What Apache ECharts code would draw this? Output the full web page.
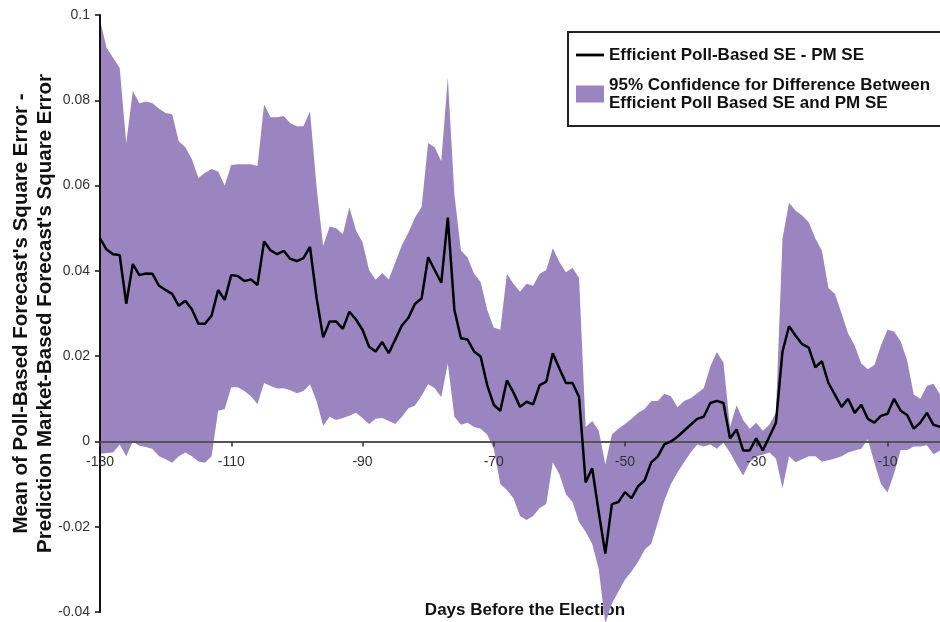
<!DOCTYPE html>
<html>
<head>
<meta charset="utf-8">
<script src="https://cdn.jsdelivr.net/npm/echarts@6/dist/echarts.min.js"></script>
<style>
  html, body { margin: 0; padding: 0; background: #fff; }
  #chart { width: 940px; height: 622px; }
</style>
</head>
<body>
<div id="chart"></div>
<script>
// 距离选举的天数
var days = [-130, -129, -128, -127, -126, -125, -124, -123, -122, -121,
    -120, -119, -118, -117, -116, -115, -114, -113, -112, -111,
    -110, -109, -108, -107, -106, -105, -104, -103, -102, -101,
    -100, -99, -98, -97, -96, -95, -94, -93, -92, -91,
    -90, -89, -88, -87, -86, -85, -84, -83, -82, -81,
    -80, -79, -78, -77, -76, -75, -74, -73, -72, -71,
    -70, -69, -68, -67, -66, -65, -64, -63, -62, -61,
    -60, -59, -58, -57, -56, -55, -54, -53, -52, -51,
    -50, -49, -48, -47, -46, -45, -44, -43, -42, -41,
    -40, -39, -38, -37, -36, -35, -34, -33, -32, -31,
    -30, -29, -28, -27, -26, -25, -24, -23, -22, -21,
    -20, -19, -18, -17, -16, -15, -14, -13, -12, -11,
    -10, -9, -8, -7, -6, -5, -4, -3, -2];

// Efficient Poll-Based SE - PM SE
var diffMean = [0.0476, 0.045, 0.0439, 0.0437, 0.0323, 0.0416, 0.039, 0.0394, 0.0393, 0.0365,
    0.0355, 0.0346, 0.0318, 0.033, 0.031, 0.0276, 0.0276, 0.0295, 0.0355, 0.0332,
    0.039, 0.0388, 0.0376, 0.038, 0.0367, 0.0469, 0.0448, 0.0439, 0.0447, 0.0428,
    0.0423, 0.043, 0.0456, 0.0337, 0.0244, 0.0281, 0.0281, 0.0264, 0.0304, 0.0286,
    0.0262, 0.0222, 0.0211, 0.0233, 0.0207, 0.0239, 0.0272, 0.029, 0.0323, 0.0335,
    0.0432, 0.0402, 0.0372, 0.0525, 0.0309, 0.0242, 0.0239, 0.0211, 0.0199, 0.0132,
    0.0086, 0.0072, 0.0143, 0.0115, 0.0081, 0.0093, 0.0087, 0.0132, 0.014, 0.0207,
    0.0171, 0.0137, 0.0137, 0.0104, -0.0096, -0.0063, -0.0166, -0.0263, -0.0147, -0.0142,
    -0.0119, -0.0133, -0.0105, -0.0091, -0.0049, -0.0035, -0.0007, 0, 0.0011, 0.0025,
    0.0039, 0.0053, 0.0058, 0.009, 0.0095, 0.009, 0.0007, 0.0028, -0.0021, -0.0021,
    0.0007, -0.0021, 0.0011, 0.0044, 0.0211, 0.027, 0.0248, 0.0228, 0.022, 0.0174,
    0.0188, 0.0137, 0.0109, 0.0081, 0.01, 0.0067, 0.0086, 0.0053, 0.0044, 0.006,
    0.0065, 0.01, 0.0072, 0.0062, 0.003, 0.0044, 0.0067, 0.0039, 0.0034];

// 95% 置信区间上界
var ciUpper = [0.0988, 0.0923, 0.090, 0.0876, 0.070, 0.0822, 0.0793, 0.0797, 0.0793, 0.078,
    0.077, 0.0767, 0.0704, 0.069, 0.0662, 0.0618, 0.063, 0.0639, 0.0633, 0.060,
    0.0648, 0.065, 0.065, 0.065, 0.0646, 0.079, 0.076, 0.076, 0.0763, 0.0746,
    0.0739, 0.0739, 0.0774, 0.0597, 0.0458, 0.0504, 0.050, 0.0486, 0.0549, 0.0495,
    0.0467, 0.0402, 0.0379, 0.0395, 0.038, 0.042, 0.046, 0.049, 0.0525, 0.055,
    0.07, 0.069, 0.0657, 0.0853, 0.0579, 0.0448, 0.0432, 0.0393, 0.0374, 0.0309,
    0.0267, 0.0262, 0.0393, 0.037, 0.0351, 0.037, 0.0365, 0.0393, 0.0402, 0.0453,
    0.0421, 0.0397, 0.0407, 0.0383, 0.0034, 0.0048, 0.0025, -0.0054, 0.0016, 0.003,
    0.0041, 0.0053, 0.0067, 0.0076, 0.0095, 0.0095, 0.0112, 0.0106, 0.008, 0.0095,
    0.0101, 0.0113, 0.0125, 0.0176, 0.021, 0.0185, 0.0034, 0.0085, 0.005, 0.003,
    0.0044, 0.0025, 0.0039, 0.0067, 0.0476, 0.056, 0.0541, 0.053, 0.0514, 0.0476,
    0.0448, 0.036, 0.0346, 0.030, 0.0253, 0.0225, 0.0183, 0.0169, 0.0179, 0.0225,
    0.0262, 0.0258, 0.0235, 0.019, 0.011, 0.010, 0.013, 0.0135, 0.011];

// 95% 置信区间下界
var ciLower = [-0.0029, -0.0027, -0.0026, -0.0007, -0.0035, 0, -0.001, -0.0013, -0.0018, -0.0035,
    -0.0042, -0.005, -0.0035, -0.0026, -0.0035, -0.0047, -0.005, -0.0035, 0.0072, 0.0076,
    0.0127, 0.0127, 0.0118, 0.0106, 0.0088, 0.0137, 0.013, 0.0124, 0.0125, 0.012,
    0.0113, 0.0118, 0.0134, 0.0095, 0.0037, 0.0058, 0.005, 0.0055, 0.006, 0.0067,
    0.0055, 0.0041, 0.0053, 0.0055, 0.0048, 0.0041, 0.0058, 0.0078, 0.0084, 0.0107,
    0.0134, 0.0125, 0.0104, 0.0183, 0.0058, 0.0039, 0.0044, 0.0034, 0.003, 0.0016,
    -0.0017, -0.01, -0.0114, -0.0133, -0.0175, -0.0184, -0.0175, -0.0156, -0.0147, -0.0049,
    -0.0077, -0.0124, -0.0142, -0.0189, -0.0212, -0.024, -0.03, -0.0426, -0.038, -0.0352,
    -0.0324, -0.0305, -0.0282, -0.0254, -0.024, -0.019, -0.0138, -0.01, -0.0073, -0.0049,
    -0.0026, -0.0007, -0.0012, -0.0007, -0.0017, -0.0003, -0.0026, -0.0054, -0.008, -0.0049,
    -0.0035, -0.0031, -0.0026, -0.004, -0.011, -0.0035, -0.0049, -0.0042, -0.0035, -0.0035,
    -0.0047, -0.0044, -0.004, -0.0035, -0.0026, -0.0021, -0.0017, 0.0005, -0.005, -0.01,
    -0.012, -0.0075, -0.002, -0.002, -0.0012, -0.0012, -0.0009, -0.003, -0.0021];

// 坐标轴刻度
var xTicks = [-130, -110, -90, -70, -50, -30, -10];

var lineName = 'Efficient Poll-Based SE - PM SE';
var bandName = '95% Confidence for Difference Between\nEfficient Poll Based SE and PM SE';
var font = "'Liberation Sans', Arial, Helvetica, sans-serif";
var purple = '#9b85c0';

var chart = echarts.init(document.getElementById('chart'));

var bandData = days.map(function (d, i) { return [d, ciUpper[i], ciLower[i]]; });
var meanData = days.map(function (d, i) { return [d, diffMean[i]]; });

// 置信带：上界正向、下界反向连成一个多边形
function renderBand(params, api) {
    if (params.dataIndex !== 0) {
        return;
    }
    var pts = [];
    for (var i = 0; i < bandData.length; i++) {
        pts.push(api.coord([bandData[i][0], bandData[i][1]]));
    }
    for (var j = bandData.length - 1; j >= 0; j--) {
        pts.push(api.coord([bandData[j][0], bandData[j][2]]));
    }
    return {
        type: 'polygon',
        shape: { points: pts },
        style: { fill: purple }
    };
}

var gridBottom = 10;

var option = {
    animation: false,
    textStyle: { fontFamily: font },
    grid: { left: 100, right: 0, top: 15, bottom: gridBottom, containLabel: false, outerBoundsMode: 'none' },
    legend: {
        left: 568,
        top: 32,
        orient: 'vertical',
        data: [
            { name: lineName, icon: 'path://M0,0 L30,0 L30,3 L0,3 Z' },
            { name: bandName, icon: 'rect' }
        ],
        itemWidth: 28,
        itemHeight: 17,
        itemGap: 12,
        padding: [14, 30, 14, 8],
        borderColor: '#222',
        borderWidth: 2,
        textStyle: {
            fontFamily: font,
            fontSize: 17,
            fontWeight: 'bold',
            color: '#111',
            lineHeight: 18
        }
    },
    xAxis: {
        type: 'value',
        min: -130,
        max: -2,
        interval: 20,
        z: 5,
        splitLine: { show: false },
        axisLine: { onZero: false, lineStyle: { color: '#555', width: 2 } },
        axisTick: { length: 5, lineStyle: { color: '#333', width: 1.5 } },
        axisLabel: {
            margin: 14,
            fontSize: 14,
            color: '#333',
            fontFamily: font,
            showMaxLabel: false,
            formatter: function (v) {
                return xTicks.indexOf(v) >= 0 ? String(v) : '';
            }
        }
    },
    yAxis: {
        type: 'value',
        min: -0.04,
        max: 0.1,
        interval: 0.02,
        z: 5,
        splitLine: { show: false },
        axisLine: { show: true, lineStyle: { color: '#111', width: 2 } },
        axisTick: { show: true, length: 5, lineStyle: { color: '#111', width: 1.5 } },
        axisLabel: { margin: 10, fontSize: 14, color: '#333', fontFamily: font },
        name: "Mean of Poll-Based Forecast's Square Error -\nPrediction Market-Based Forecast's Square Error",
        nameLocation: 'middle',
        nameGap: 43,
        nameMoveOverlap: false,
        nameTextStyle: {
            fontFamily: font,
            fontSize: 20.5,
            fontWeight: 'bold',
            color: '#111',
            lineHeight: 24
        }
    },
    graphic: [{
        type: 'text',
        x: 525,
        y: 610,
        style: {
            text: 'Days Before the Election',
            font: 'bold 17px ' + font,
            fill: '#111',
            textAlign: 'center',
            textVerticalAlign: 'middle'
        }
    }],
    series: [
        {
            name: bandName,
            type: 'custom',
            data: bandData,
            encode: { x: 0, y: [1, 2] },
            renderItem: renderBand,
            clip: false,
            itemStyle: { color: purple },
            silent: true,
            z: 1
        },
        {
            name: lineName,
            type: 'line',
            data: meanData,
            symbol: 'none',
            itemStyle: { color: '#000' },
            lineStyle: { color: '#000', width: 2.5 },
            z: 10
        }
    ]
};

chart.setOption(option);

// x 轴移到 y=0 处（标签和刻度一起移动）
var zeroY = chart.convertToPixel({ yAxisIndex: 0 }, 0);
var bottomY = chart.getHeight() - gridBottom;
chart.setOption({ xAxis: { offset: zeroY - bottomY } });
</script>
</body>
</html>
